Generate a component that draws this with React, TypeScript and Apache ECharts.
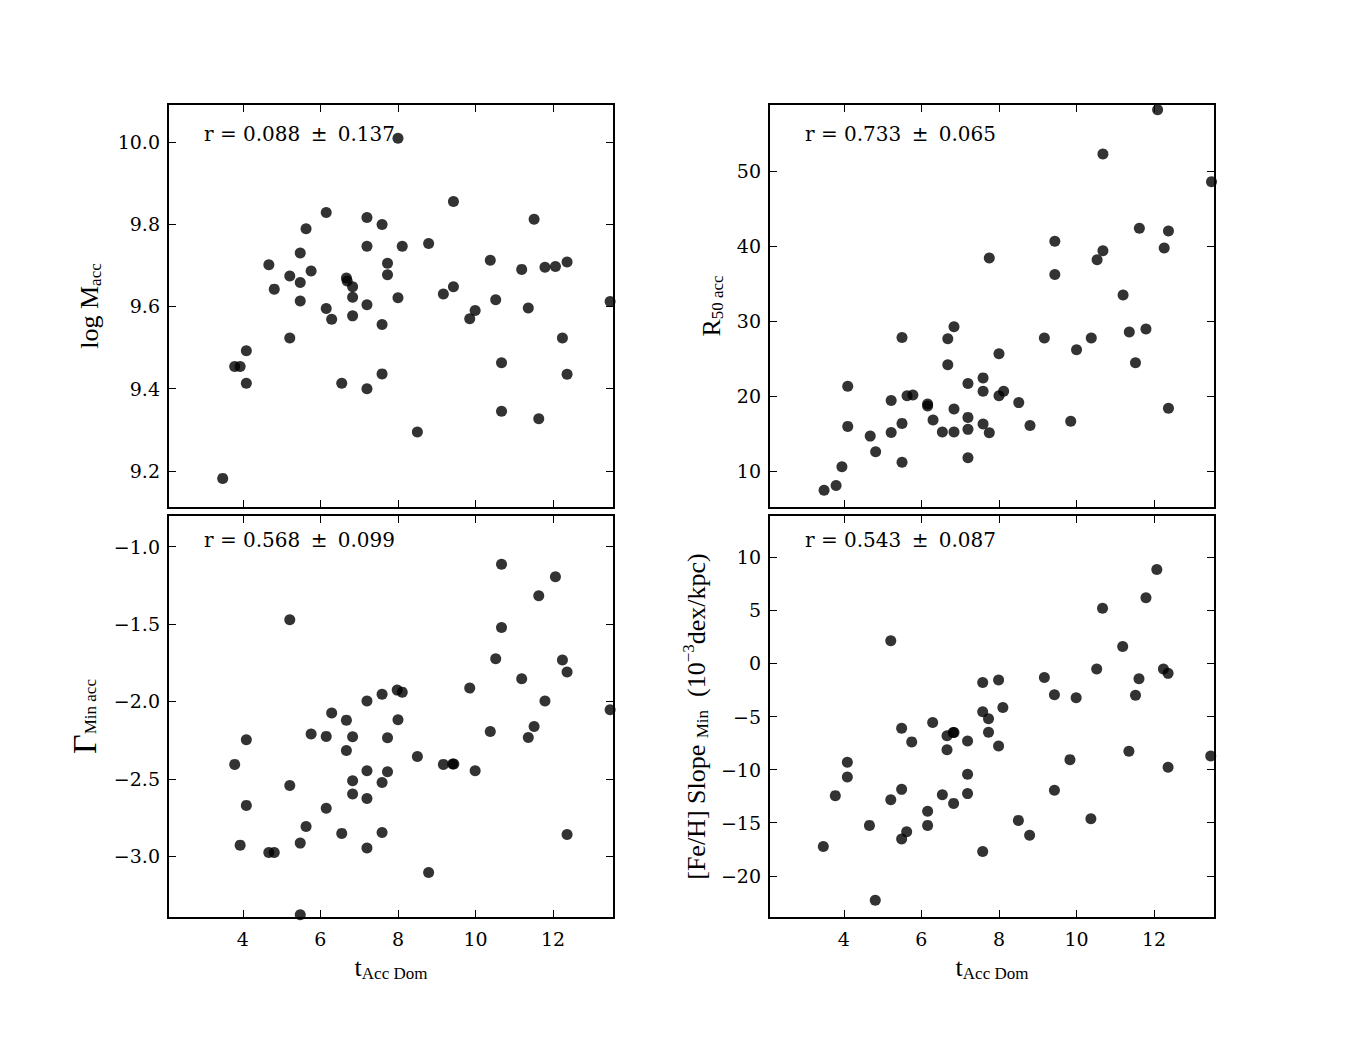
import React, { useEffect, useRef } from "react";
import * as echarts from "echarts";

// ---- data ----
const X_TICKS = [4, 6, 8, 10, 12];
const X_MIN = 2.07;
const X_MAX = 13.57;

const TL_X = [3.48,3.79,3.93,4.09,4.09,4.67,4.81,5.21,5.21,5.48,5.48,5.48,5.63,5.76,6.15,6.15,6.29,6.55,6.67,6.69,6.83,6.83,6.83,7.20,7.20,7.20,7.20,7.59,7.59,7.59,7.73,7.73,8.00,8.00,8.11,8.50,8.79,9.17,9.43,9.43,9.85,9.99,10.38,10.52,10.67,10.67,11.19,11.36,11.51,11.63,11.79,12.06,12.24,12.36,12.36,13.47];
const TL_Y = [9.182,9.454,9.454,9.492,9.413,9.701,9.642,9.674,9.523,9.730,9.658,9.613,9.789,9.686,9.828,9.595,9.569,9.413,9.669,9.662,9.648,9.622,9.577,9.816,9.746,9.604,9.400,9.799,9.556,9.436,9.705,9.677,10.009,9.621,9.746,9.295,9.753,9.630,9.855,9.648,9.570,9.590,9.712,9.616,9.463,9.345,9.690,9.596,9.812,9.327,9.695,9.697,9.523,9.708,9.435,9.612];
const TL_TICKS = [9.2, 9.4, 9.6, 9.8, 10.0];

const TR_X = [3.49,3.80,3.95,4.10,4.10,4.68,4.82,5.22,5.22,5.50,5.50,5.50,5.63,5.78,6.16,6.16,6.30,6.54,6.68,6.68,6.84,6.84,6.84,7.20,7.20,7.20,7.20,7.59,7.59,7.59,7.75,7.75,8.00,8.00,8.12,8.51,8.80,9.17,9.44,9.44,9.85,10.00,10.38,10.53,10.68,10.68,11.20,11.36,11.52,11.62,11.79,12.09,12.26,12.37,12.37,13.48];
const TR_Y = [7.41,8.04,10.54,21.29,15.94,14.64,12.54,19.38,15.13,27.81,16.34,11.16,20.04,20.13,18.93,18.66,16.79,15.18,27.63,24.15,29.24,18.26,15.18,21.65,17.14,15.54,11.74,22.41,20.63,16.25,38.39,15.09,25.63,20.04,20.63,19.11,16.07,27.72,40.63,36.21,16.61,26.16,27.72,38.17,52.28,39.38,33.48,28.53,24.42,42.37,28.93,58.17,39.73,42.01,18.35,48.57];
const TR_TICKS = [10, 20, 30, 40, 50];

const BL_X = [3.79,3.93,4.09,4.09,4.67,4.81,5.21,5.21,5.48,5.48,5.63,5.76,6.15,6.15,6.29,6.55,6.67,6.67,6.83,6.83,6.83,7.20,7.20,7.20,7.20,7.59,7.59,7.59,7.73,7.73,7.98,8.11,8.00,8.50,8.79,9.17,9.41,9.44,9.85,9.99,10.38,10.52,10.67,10.67,11.19,11.36,11.51,11.63,11.79,12.06,12.24,12.36,12.36,13.47];
const BL_Y = [-2.407,-2.929,-2.248,-2.672,-2.976,-2.976,-1.472,-2.543,-2.916,-3.379,-2.808,-2.211,-2.226,-2.690,-2.075,-2.853,-2.121,-2.317,-2.228,-2.513,-2.599,-1.998,-2.448,-2.627,-2.948,-1.953,-2.524,-2.847,-2.235,-2.455,-1.927,-1.940,-2.119,-2.356,-3.106,-2.407,-2.405,-2.405,-1.914,-2.448,-2.194,-1.724,-1.114,-1.522,-1.853,-2.233,-2.162,-1.317,-1.998,-1.194,-1.733,-1.810,-2.860,-2.054];
const BL_TICKS = [-3.0, -2.5, -2.0, -1.5, -1.0];

const BR_X = [3.47,3.78,4.09,4.09,4.66,4.81,5.21,5.21,5.49,5.49,5.49,5.62,5.75,6.16,6.16,6.29,6.54,6.66,6.66,6.82,6.84,6.83,7.19,7.19,7.19,7.58,7.58,7.58,7.73,7.73,7.99,7.99,8.10,8.50,8.79,9.17,9.43,9.43,9.83,9.99,10.37,10.52,10.67,11.19,11.35,11.52,11.61,11.79,12.07,12.24,12.36,12.36,13.46];
const BR_Y = [-17.23,-12.45,-9.31,-10.69,-15.25,-22.30,2.14,-12.83,-6.10,-11.86,-16.54,-15.85,-7.39,-13.93,-15.25,-5.57,-12.36,-6.82,-8.14,-6.51,-6.51,-13.18,-7.30,-10.44,-12.26,-1.79,-4.56,-17.70,-5.22,-6.48,-1.57,-7.77,-4.15,-14.78,-16.19,-1.32,-2.96,-11.95,-9.06,-3.24,-14.62,-0.53,5.19,1.60,-8.27,-2.99,-1.45,6.19,8.84,-0.53,-0.94,-9.78,-8.71];
const BR_TICKS = [-20, -15, -10, -5, 0, 5, 10];

const R_TEXTS = [
  "r = 0.088 \u2009\u00b1\u2009 0.137",
  "r = 0.733 \u2009\u00b1\u2009 0.065",
  "r = 0.568 \u2009\u00b1\u2009 0.099",
  "r = 0.543 \u2009\u00b1\u2009 0.087",
];

const LABEL_FONT = "Liberation Serif";
const TICK_FONT = "DejaVu Serif";

const fmt = (d: number) => (v: number) => (v < 0 ? "\u2212" : "") + Math.abs(v).toFixed(d);

const richStyles = {
  m: { fontSize: 26, fontFamily: LABEL_FONT, color: "#000" },
  g: { fontSize: 34, fontFamily: LABEL_FONT, color: "#000" },
  s: { fontSize: 17, fontFamily: LABEL_FONT, color: "#000", padding: [12, 0, 0, 0] },
  p: { fontSize: 17, fontFamily: LABEL_FONT, color: "#000", padding: [0, 0, 16, 0] },
};

const PANELS = [
  { xs: TL_X, ys: TL_Y, yMin: 9.11, yMax: 10.092, ticks: TL_TICKS, dec: 1, name: "{m|log M}{s|acc}", gap: 64, showX: false },
  { xs: TR_X, ys: TR_Y, yMin: 5.05, yMax: 58.95, ticks: TR_TICKS, dec: 0, name: "{m|R}{s|50 acc}", gap: 43, showX: false },
  { xs: BL_X, ys: BL_Y, yMin: -3.40, yMax: -0.795, ticks: BL_TICKS, dec: 1, name: "{g|\u0393}{s|Min acc}", gap: 67, showX: true },
  { xs: BR_X, ys: BR_Y, yMin: -23.97, yMax: 13.97, ticks: BR_TICKS, dec: 0, name: "{m|[Fe/H] Slope }{s|Min}{m|  (10}{p|\u22123}{m|dex/kpc)}", gap: 56, showX: true },
];

const GRID_BOXES = [
  { left: 168, top: 104, width: 446, height: 404 },
  { left: 769, top: 104, width: 446, height: 404 },
  { left: 168, top: 515, width: 446, height: 403 },
  { left: 769, top: 515, width: 446, height: 403 },
];

function buildOption() {
  const grid: any[] = [];
  const xAxis: any[] = [];
  const yAxis: any[] = [];
  const series: any[] = [];
  const graphic: any[] = [];
  const tick = { inside: true, length: 8, lineStyle: { color: "#000", width: 1 } };
  const labelStyle = { color: "#000", fontFamily: TICK_FONT, fontSize: 19 };

  PANELS.forEach((p, i) => {
    const b = GRID_BOXES[i];
    grid.push({ ...b, show: true, borderColor: "#000", borderWidth: 2, backgroundColor: "transparent" });
    ["bottom", "top"].forEach((pos, k) => {
      const showLabel = k === 0 && p.showX;
      xAxis.push({
        gridIndex: i, type: "value", position: pos, min: X_MIN, max: X_MAX,
        axisLine: { show: false, onZero: false }, splitLine: { show: false },
        axisTick: { ...tick, customValues: X_TICKS },
        axisLabel: { show: showLabel, customValues: X_TICKS, margin: 11, ...labelStyle, formatter: fmt(0) },
        name: showLabel ? "{m|t}{s|Acc Dom}" : "",
        nameLocation: "middle", nameGap: 35,
        nameTextStyle: { rich: richStyles },
      });
    });
    ["left", "right"].forEach((pos, k) => {
      yAxis.push({
        gridIndex: i, type: "value", position: pos, min: p.yMin, max: p.yMax,
        axisLine: { show: false, onZero: false }, splitLine: { show: false },
        axisTick: { ...tick, customValues: p.ticks },
        axisLabel: { show: k === 0, customValues: p.ticks, margin: 8, ...labelStyle, formatter: fmt(p.dec) },
        name: k === 0 ? p.name : "",
        nameLocation: "middle", nameGap: p.gap, nameRotate: 90,
        nameTextStyle: { rich: richStyles },
      });
    });
    series.push({
      type: "scatter", xAxisIndex: 2 * i, yAxisIndex: 2 * i,
      data: p.xs.map((x, j) => [x, p.ys[j]]),
      symbol: "circle", symbolSize: 11,
      itemStyle: { color: "#000", opacity: 0.8 },
      clip: true,
    });
    graphic.push({
      type: "text", x: b.left + 36, y: b.top + (i < 2 ? 30 : 25), z: 10,
      style: { text: R_TEXTS[i], fontFamily: TICK_FONT, fontSize: 20, fill: "#000", verticalAlign: "middle" },
    });
  });

  return { animation: false, backgroundColor: "#fff", grid, xAxis, yAxis, series, graphic };
}

export default function App() {
  const ref = useRef<HTMLDivElement>(null);
  useEffect(() => {
    if (!ref.current) return;
    const chart = echarts.init(ref.current, undefined, { renderer: "svg" });
    chart.setOption(buildOption());
    return () => chart.dispose();
  }, []);
  return (
    <div
      ref={ref}
      style={{ position: "absolute", left: 0, top: 0, width: 1350, height: 1050, background: "#fff" }}
    />
  );
}
